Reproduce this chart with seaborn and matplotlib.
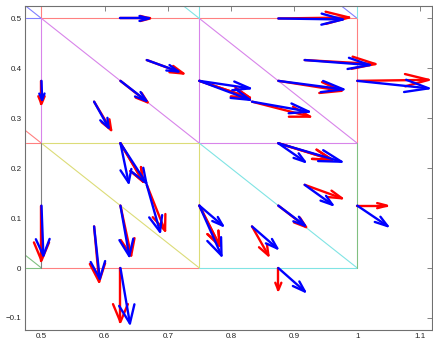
import numpy as np
import pandas as pd
import matplotlib
matplotlib.use("Agg")
import matplotlib.pyplot as plt
import seaborn as sns

# ---------------- data ----------------
# arrow tails
tail_x = [0.625, 0.875, 0.5, 0.6667, 0.625, 0.5833, 0.75, 0.75, 0.8333, 0.875,
          0.9167, 1.0, 0.625, 0.625, 0.6667, 0.625, 0.5833, 0.5, 0.625, 0.75,
          0.75, 0.8333, 0.875, 0.875, 0.9167, 1.0, 0.875, 0.875]
tail_y = [0.5, 0.5, 0.375, 0.4167, 0.375, 0.3333, 0.375, 0.375, 0.3333, 0.375,
          0.4167, 0.375, 0.25, 0.25, 0.1667, 0.125, 0.0833, 0.125, 0.0, 0.125,
          0.125, 0.0833, 0.0, 0.125, 0.1667, 0.125, 0.25, 0.25]
# red vectors (exact)
red_u = [0.047, 0.112, 0.0, 0.058, 0.043, 0.027, 0.080, 0.080, 0.092, 0.100,
         0.112, 0.113, 0.036, 0.036, 0.029, 0.017, 0.008, 0.0, 0.0, 0.032,
         0.032, 0.026, 0.0, 0.044, 0.059, 0.047, 0.085, 0.085]
red_v = [0.0, 0.002, -0.046, -0.027, -0.043, -0.057, -0.034, -0.034, -0.030, -0.020,
         -0.008, 0.002, -0.077, -0.077, -0.092, -0.100, -0.111, -0.110, -0.108, -0.080,
         -0.080, -0.058, -0.044, -0.043, -0.027, 0.0, -0.033, -0.033]
# blue vectors (computed)
blue_u = [0.045, 0.102, 0.001, 0.050, 0.041, 0.023, 0.080, 0.080, 0.090, 0.103,
          0.103, 0.113, 0.013, 0.041, 0.021, 0.014, 0.009, 0.003, 0.015, 0.037,
          0.035, 0.040, 0.042, 0.042, 0.044, 0.048, 0.042, 0.100]
blue_v = [0.0, -0.002, -0.038, -0.023, -0.040, -0.052, -0.015, -0.038, -0.020, -0.017,
          -0.010, -0.015, -0.079, -0.080, -0.094, -0.101, -0.105, -0.100, -0.111, -0.040,
          -0.100, -0.044, -0.047, -0.040, -0.040, -0.041, -0.037, -0.037]

# mesh edges: (x0, y0, x1, y1, colour)
mesh_x0 = [0.475, 0.475, 0.5, 0.5, 0.5, 0.5, 0.75, 0.5, 0.475, 0.75, 0.75, 0.75,
           0.725, 0.75, 1.0, 1.0, 1.0, 0.975, 0.475, 0.5, 0.75, 0.475, 0.5, 0.75,
           0.475, 0.5]
mesh_y0 = [0.5, 0.525, 0.5, 0.5, 0.25, 0.5, 0.25, 0.25, 0.25, 0.25, 0.0, 0.5,
           0.525, 0.5, 0.25, 0.0, 0.5, 0.525, 0.275, 0.25, 0.25, 0.0, 0.0, 0.0,
           0.025, 0.0]
mesh_x1 = [0.5, 0.5, 0.5, 1.0, 0.5, 0.75, 1.0, 0.75, 0.5, 0.75, 0.75, 0.75,
           0.75, 1.0, 1.0, 1.0, 1.0, 1.0, 0.5, 0.75, 1.0, 0.5, 0.75, 1.0,
           0.5, 0.5]
mesh_y1 = [0.5, 0.5, 0.525, 0.5, 0.5, 0.25, 0.25, 0.25, 0.25, 0.5, 0.25, 0.525,
           0.5, 0.25, 0.5, 0.25, 0.525, 0.5, 0.25, 0.0, 0.0, 0.0, 0.0, 0.0,
           0.0, 0.25]
mesh_col = ["blue", "blue", "red", "red", "magenta", "magenta", "magenta", "yellow",
            "red", "magenta", "yellow", "cyan", "cyan", "magenta", "red", "green",
            "cyan", "blue", "red", "yellow", "cyan", "green", "red", "cyan",
            "green", "gray"]

x_ticks = [0.5, 0.6, 0.7, 0.8, 0.9, 1.0, 1.1]
x_tick_labels = ["0.5", "0.6", "0.7", "0.8", "0.9", "1", "1.1"]
y_ticks = [-0.1, 0.0, 0.1, 0.2, 0.3, 0.4, 0.5]
y_tick_labels = ["\u22120.1", "0", "0.1", "0.2", "0.3", "0.4", "0.5"]

# ---------------- styling ----------------
sns.set_theme(style="white")
plt.rcParams["font.family"] = ["Liberation Sans", "DejaVu Sans"]

mesh_palette = {"red": "#ff8080", "magenta": "#d884ea", "yellow": "#dcdc78",
                "cyan": "#80e4e4", "green": "#80c080", "blue": "#8080ff",
                "gray": "#808080"}

fig = plt.figure(figsize=(4.33, 3.44), dpi=100)
ax = fig.add_axes([25 / 433, 14 / 344, 407 / 433, 324 / 344])
ax.set_xlim(0.4739, 1.1183)
ax.set_ylim(-0.1242, 0.525)


def arrow_frame(xs, ys, us, vs, alpha=0.33, beta=0.33):
    rows = []
    seg = 0
    eps = 1e-12
    for x, y, u, v in zip(xs, ys, us, vs):
        tx, ty = x + u, y + v
        h1x = tx - alpha * (u + beta * (v + eps))
        h1y = ty - alpha * (v - beta * (u + eps))
        h2x = tx - alpha * (u - beta * (v + eps))
        h2y = ty - alpha * (v + beta * (u + eps))
        rows += [(x, y, seg, 0), (tx, ty, seg, 1)]
        seg += 1
        rows += [(h1x, h1y, seg, 0), (tx, ty, seg, 1), (h2x, h2y, seg, 2)]
        seg += 1
    return pd.DataFrame(rows, columns=["x", "y", "seg", "order"])


# mesh
mesh_df = []
for i, (a, b, c, d, col) in enumerate(zip(mesh_x0, mesh_y0, mesh_x1, mesh_y1, mesh_col)):
    mesh_df += [(a, b, i, col), (c, d, i, col)]
mesh_df = pd.DataFrame(mesh_df, columns=["x", "y", "seg", "col"])
sns.lineplot(data=mesh_df, x="x", y="y", units="seg", hue="col", palette=mesh_palette,
             estimator=None, sort=False, legend=False, linewidth=0.8, ax=ax)

red_df = arrow_frame(tail_x, tail_y, red_u, red_v)
blue_df = arrow_frame(tail_x, tail_y, blue_u, blue_v)
sns.lineplot(data=red_df, x="x", y="y", units="seg", estimator=None, sort=False,
             color="#ff0000", linewidth=1.7, ax=ax)
sns.lineplot(data=blue_df, x="x", y="y", units="seg", estimator=None, sort=False,
             color="#0000ff", linewidth=1.7, ax=ax)

ax.set_xlabel("")
ax.set_ylabel("")
ax.set_xticks(x_ticks)
ax.set_xticklabels(x_tick_labels)
ax.set_yticks(y_ticks)
ax.set_yticklabels(y_tick_labels)
ax.tick_params(direction="in", length=3.5, width=0.6, top=True, right=True,
               labelsize=5.8, color="#707070", labelcolor="#222222", pad=2.5)
for s in ax.spines.values():
    s.set_color("#707070")
    s.set_linewidth(0.8)

fig.savefig("out.png", dpi=100)
